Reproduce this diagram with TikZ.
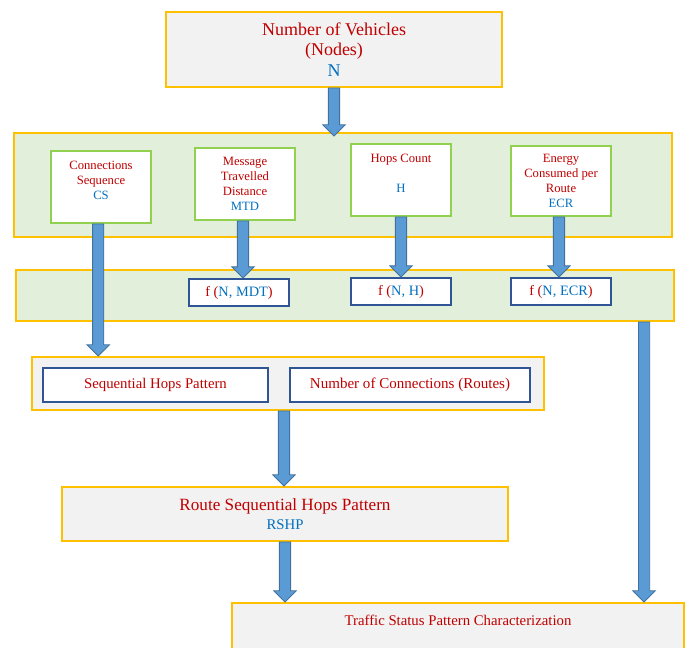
\documentclass[tikz,border=0pt]{standalone}
\usepackage{fontspec}
\setmainfont{Liberation Serif}
\usetikzlibrary{calc}
\definecolor{boxgold}{HTML}{FFC000}
\definecolor{boxgrey}{HTML}{F2F2F2}
\definecolor{bandgreen}{HTML}{E2EFDA}
\definecolor{leafgreen}{HTML}{92D050}
\definecolor{edgeblue}{HTML}{2F5597}
\definecolor{txtred}{HTML}{C00000}
\definecolor{txtblue}{HTML}{0070C0}
\definecolor{arrowblue}{HTML}{5B9BD5}
\definecolor{arrowedge}{HTML}{41719C}

\begin{document}
\begin{tikzpicture}[
    x=0.025cm, y=-0.025cm,
    goldbox/.style={rectangle, draw=boxgold, fill=boxgrey, line width=1.4pt,
                    align=center, text=txtred, inner sep=0pt},
    band/.style={rectangle, draw=boxgold, fill=bandgreen, line width=1.4pt},
    leafbox/.style={rectangle, draw=leafgreen, fill=white, line width=1.4pt,
                    minimum width=2.5cm, minimum height=1.8cm, align=center,
                    text=txtred, font=\fontsize{9}{10.7}\selectfont},
    fbox/.style={rectangle, draw=edgeblue, fill=white, line width=1.3pt,
                 minimum width=2.5cm, minimum height=0.675cm, text=txtred,
                 font=\fontsize{10.2}{12}\selectfont},
    blockarrow/.style={draw=arrowedge, fill=arrowblue, line width=0.6pt,
      to path={let \p1=(\tikztostart), \p2=(\tikztotarget) in
        (\x1-1.4mm,\y1) -- (\x1-1.4mm,\y2+2.8mm) -- (\x1-2.8mm,\y2+2.8mm)
        -- (\x1,\y2) -- (\x1+2.8mm,\y2+2.8mm) -- (\x1+1.4mm,\y2+2.8mm)
        -- (\x1+1.4mm,\y1) -- cycle}}
  ]

  % ---- Page frame ----
  \clip (0,0) rectangle (685,648);
  \fill[white] (0,0) rectangle (685,648);

  % ---- Top: number of vehicles ----
  \node[goldbox, minimum width=8.4cm, minimum height=1.875cm,
        font=\fontsize{12.8}{14.5}\selectfont]
    (TopN) at (334,49.5)
    {Number of Vehicles\\(Nodes)\\\textcolor{txtblue}{N}};

  % ============ BAND 1: measured parameters ============
  \node[band, minimum width=16.45cm, minimum height=2.6cm]
    (Band1) at (343,185) {};

  \node[leafbox] (CS) at (101,187)
    {Connections\\Sequence\\\textcolor{txtblue}{CS}\\[-0.7pt]};
  \node[leafbox] (MTD) at (245,184)
    {Message\\Travelled\\Distance\\\textcolor{txtblue}{MTD}};
  \node[leafbox] (Hops) at (401,180)
    {Hops Count\\~\\\textcolor{txtblue}{H}\\[-1.5pt]};
  \node[leafbox, minimum height=1.75cm] (ECR) at (561,181)
    {Energy\\Consumed per\\Route\\\textcolor{txtblue}{ECR}};

  % ============ BAND 2: functions of N ============
  \node[band, minimum width=16.45cm, minimum height=1.275cm]
    (Band2) at (345,295.5) {};

  \node[fbox] (fMTD) at (239,292.5)
    {f (\textcolor{txtblue}{N, MDT})};
  \node[fbox] (fH) at (401,291.5)
    {f (\textcolor{txtblue}{N, H})};
  \node[fbox] (fECR) at (561,291.5)
    {f (\textcolor{txtblue}{N, ECR})};

  % ============ BAND 3: hop patterns ============
  \node[goldbox, minimum width=12.8cm, minimum height=1.325cm]
    (Band3) at (288,383.5) {};

  \node[fbox, minimum width=5.625cm, minimum height=0.85cm,
        font=\fontsize{10.5}{12}\selectfont]
    (SHP) at (155.5,385) {Sequential Hops Pattern};
  \node[fbox, minimum width=6cm, minimum height=0.85cm,
        font=\fontsize{10.7}{12}\selectfont]
    (NoC) at (410,385) {Number of Connections (Routes)};

  % ---- Route sequential hops pattern ----
  \node[goldbox, minimum width=11.15cm, minimum height=1.35cm,
        font=\fontsize{12.2}{13.5}\selectfont]
    (RSHP) at (285,514)
    {Route Sequential Hops Pattern\\{\fontsize{10.5}{12}\selectfont\textcolor{txtblue}{RSHP}}};

  % ---- Traffic status (runs past the page edge) ----
  \node[goldbox, minimum width=11.3cm, text height=0.56cm, text depth=1.4cm,
        anchor=north, font=\fontsize{10.5}{12}\selectfont]
    (Traffic) at (458,602) {Traffic Status Pattern Characterization};

  % ---- Block arrows ----
  \coordinate (tapR) at ($(Band2.south east)+(-31,0)$);
  \draw[blockarrow] (TopN.south) to ([yshift=-1mm]TopN.south |- Band1.north);
  \draw[blockarrow] ([xshift=-0.07cm]CS.south) to ([xshift=-0.07cm]CS.south |- Band3.north);
  \draw[blockarrow] ([xshift=-0.05cm]MTD.south) to (fMTD.north);
  \draw[blockarrow] (Hops.south) to (fH.north);
  \draw[blockarrow] ([xshift=-0.05cm]ECR.south) to (fECR.north);
  \draw[blockarrow] (tapR) to (tapR |- Traffic.north);
  \draw[blockarrow] ([xshift=-0.1cm]Band3.south) to ([xshift=-0.1cm]Band3.south |- RSHP.north);
  \draw[blockarrow] (RSHP.south) to (RSHP.south |- Traffic.north);

\end{tikzpicture}
\end{document}
